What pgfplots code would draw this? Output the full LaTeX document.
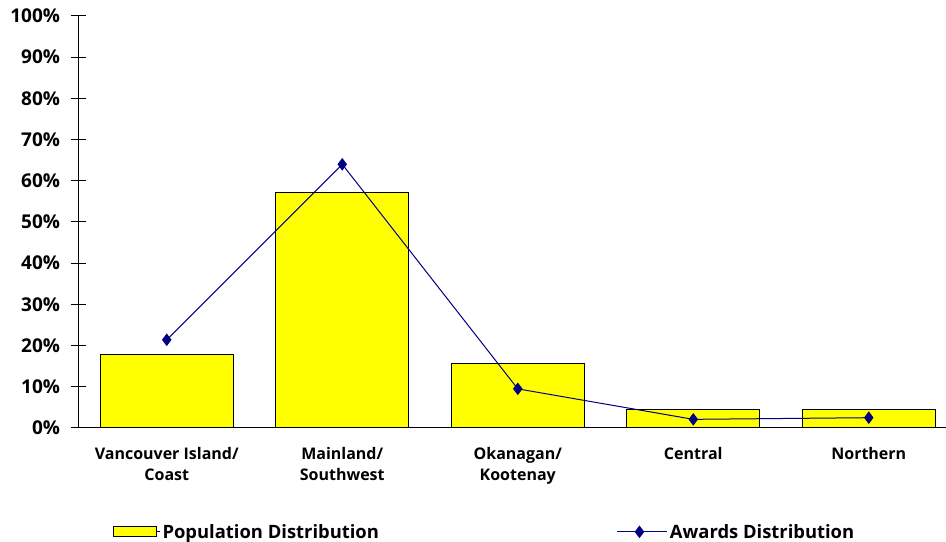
\documentclass[border=0pt]{standalone}
\usepackage{fontspec}
\setmainfont{Open Sans}
\usepackage{pgfplots}
\pgfplotsset{compat=1.18}
\definecolor{barYellow}{RGB}{255,255,0}
\definecolor{lineNavy}{RGB}{0,0,128}
\pgfplotsset{
  barleg/.style={legend image code/.code={\draw[##1] (0pt,-5pt) rectangle (43pt,5pt); \path (43pt,0pt) -- (47pt,0pt);}},
  lineleg/.style={legend image code/.code={\draw[##1, mark repeat=2, mark phase=2] plot coordinates {(0pt,0pt) (22pt,0pt) (45pt,0pt)}; \path (45pt,0pt) -- (50pt,0pt);}},
}
\begin{document}
\begin{tikzpicture}
\begin{axis}[
  name=ax,
  scale only axis, width=867pt, height=412pt,
  xmin=-0.5, xmax=4.44, ymin=0, ymax=100,
  axis x line*=bottom, axis y line*=left,
  axis line style={line width=1pt},
  /pgf/number format/assume math mode=true,
  ytick={0,10,...,100},
  yticklabel={\pgfmathprintnumber{\tick}\%},
  tick align=center, major tick length=15pt,
  tick style={line width=1pt, black},
  xtick={0,1,2,3,4},
  xticklabels={{Vancouver Island/\\Coast},{Mainland/\\Southwest},{Okanagan/\\Kootenay},{Central},{Northern}},
  xticklabel style={align=center, yshift=-8pt, font=\fontsize{16}{21.5}\selectfont\bfseries},
  xtick style={draw=none},
  extra x ticks={-0.5,0.5,1.5,2.5,3.5},
  extra x tick labels={},
  extra x tick style={tick align=outside, major tick length=5pt, tick style={draw=black, line width=1pt}},
  yticklabel style={xshift=-8pt, font=\fontsize{19}{22}\selectfont\bfseries},
  legend columns=2,
  legend style={draw=none, at={(0.035,-0.252)}, anchor=west, font=\fontsize{18.4}{22}\selectfont\bfseries,
     /tikz/every even column/.append style={column sep=236pt}},
  clip=false,
]
\addplot[ybar, bar width=133pt, fill=barYellow, draw=black, line width=1pt, barleg]
  coordinates {(0,17.9) (1,57.2) (2,15.7) (3,4.4) (4,4.4)};
\addlegendentry{Population Distribution}
\addplot[lineNavy, line width=1pt, mark=diamond*, mark size=5.5pt, mark options={fill=lineNavy, draw=lineNavy}, lineleg]
  coordinates {(0,21.4) (1,64.0) (2,9.5) (3,2.1) (4,2.5)};
\addlegendentry{Awards Distribution}
\end{axis}
\pgfresetboundingbox
\path[use as bounding box] ([shift={(-79pt,-114pt)}]ax.south west) rectangle ([shift={(0pt,16pt)}]ax.north east);
\end{tikzpicture}
\end{document}
